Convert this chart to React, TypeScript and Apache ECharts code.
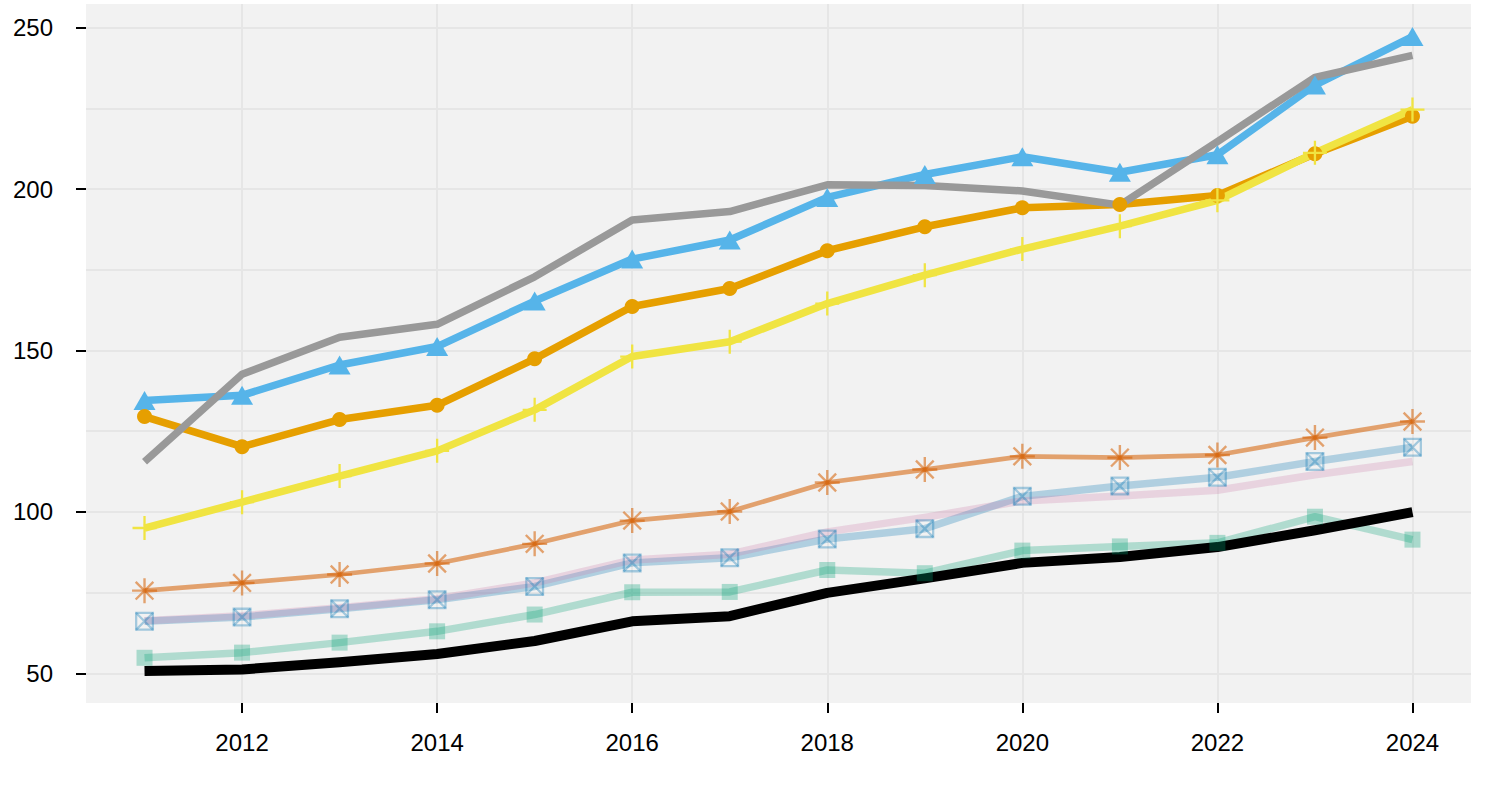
import React, { useEffect, useRef } from "react";
import * as echarts from "echarts";

const years = [2011, 2012, 2013, 2014, 2015, 2016, 2017, 2018, 2019, 2020, 2021, 2022, 2023, 2024];
const xTicks = [2012, 2014, 2016, 2018, 2020, 2022, 2024];
const yTicks = [50, 100, 150, 200, 250];
const yMinor = [75, 125, 175, 225];

const blueVals = [134.5, 136.1, 145.5, 151.2, 165.3, 178.3, 184.2, 197.4, 204.5, 210, 205.2, 210.6, 232.2, 247.2];
const grayVals = [115.5, 142.6, 154.1, 158.1, 172.8, 190.4, 193.0, 201.3, 201.1, 199.4, 195.0, 214.7, 234.6, 241.4];
const orangeVals = [129.5, 120.2, 128.6, 133.0, 147.4, 163.6, 169.2, 180.9, 188.3, 194.2, 195.2, 198.0, 210.9, 222.5];
const yellowVals = [95.0, 103.0, 111.1, 118.9, 131.6, 148.1, 152.7, 164.5, 173.3, 181.4, 188.5, 196.5, 211.2, 224.6];
const vermVals = [75.6, 78.0, 80.6, 84.0, 90.1, 97.3, 100.1, 109.1, 113.1, 117.2, 116.8, 117.6, 123.0, 128.0];
const lightBlueVals = [66.1, 67.4, 70.0, 72.8, 76.9, 84.2, 85.8, 91.6, 94.8, 104.8, 108.0, 110.7, 115.6, 120.0];
const pinkVals = [66.3, 67.8, 70.3, 73.1, 78.0, 85.1, 86.9, 93.8, 98.3, 103.4, 104.9, 106.7, 111.5, 115.6];
const greenVals = [54.8, 56.4, 59.5, 63.0, 68.2, 75.1, 75.2, 82.0, 81.0, 88.0, 89.3, 90.4, 98.5, 91.4];
const blackVals = [50.7, 51.2, 53.4, 56.0, 60.0, 66.1, 67.7, 74.9, 79.4, 84.2, 86.0, 89.1, 94.3, 99.9];

const FONT = "'Liberation Sans', Arial, Helvetica, sans-serif";

// plus sign in a 24x24 box
const PLUS_PATH =
  "path://M10.85,0 L13.15,0 L13.15,10.85 L24,10.85 L24,13.15 L13.15,13.15 L13.15,24 L10.85,24 L10.85,13.15 L0,13.15 L0,10.85 L10.85,10.85 Z";
// diagonal cross inside the same 24x24 box (bbox kept by tiny corner dots)
const XDIAG_PATH =
  "path://M0,0 L0.01,0 L0.01,0.01 Z M24,24 L23.99,24 L23.99,23.99 Z " +
  "M4.31,2.69 L21.31,19.69 L19.69,21.31 L2.69,4.31 Z " +
  "M2.69,19.69 L19.69,2.69 L21.31,4.31 L4.31,21.31 Z";
// square ring in a 20x20 box
const SQ_RING_PATH =
  "path://M0,0 L20,0 L20,20 L0,20 Z M2.4,2.4 L2.4,17.6 L17.6,17.6 L17.6,2.4 Z";
// diagonals of the square in the same 20x20 box
const SQ_DIAG_PATH =
  "path://M0,0 L0.01,0 L0.01,0.01 Z M20,20 L19.99,20 L19.99,19.99 Z " +
  "M1.85,0.15 L19.85,18.15 L18.15,19.85 L0.15,1.85 Z " +
  "M0.15,18.15 L18.15,0.15 L19.85,1.85 L1.85,19.85 Z";

const pairs = (vals: number[]) => years.map((y, i) => [y, vals[i]]);

function lineSeries(vals: number[], color: string, width: number, opacity = 1) {
  return {
    type: "line",
    data: pairs(vals),
    showSymbol: false,
    symbol: "none",
    silent: true,
    lineStyle: { color, width, opacity, cap: "butt", join: "round" },
    itemStyle: { color },
    z: 3,
  };
}

function markerSeries(vals: number[], symbol: string, size: number | number[], color: string, opacity = 1) {
  return {
    type: "scatter",
    data: pairs(vals),
    symbol,
    symbolSize: size,
    silent: true,
    itemStyle: { color, opacity },
    z: 4,
  };
}

export default function App() {
  const ref = useRef<HTMLDivElement>(null);
  useEffect(() => {
    if (!ref.current) return;
    const chart = echarts.init(ref.current, undefined, { renderer: "svg" });
    const gridStyle = { color: "#E6E6E6", width: 2 };
    chart.setOption({
      animation: false,
      backgroundColor: "#FFFFFF",
      grid: {
        left: 86,
        right: 17,
        top: 4,
        bottom: 97,
        show: true,
        backgroundColor: "#F2F2F2",
        borderWidth: 0,
      },
      xAxis: {
        type: "value",
        min: 2010.4,
        max: 2024.6,
        axisLine: { show: false },
        axisTick: {
          show: true,
          length: 10,
          customValues: xTicks,
          lineStyle: { color: "#000", width: 2 },
        },
        axisLabel: {
          customValues: xTicks,
          fontSize: 24,
          color: "#000",
          fontFamily: FONT,
          margin: 27,
          formatter: (v: number) => String(v),
        },
        splitLine: { show: true, lineStyle: gridStyle },
      },
      yAxis: [
        {
          type: "value",
          min: 40.8,
          max: 257.3,
          axisLine: { show: false },
          axisTick: {
            show: true,
            length: 10,
            customValues: yTicks,
            lineStyle: { color: "#000", width: 2 },
          },
          axisLabel: {
            customValues: yTicks,
            fontSize: 24,
            color: "#000",
            fontFamily: FONT,
            margin: 33,
            formatter: (v: number) => String(v),
          },
          splitLine: { show: true, lineStyle: gridStyle },
        },
        {
          type: "value",
          position: "left",
          min: 40.8,
          max: 257.3,
          axisLine: { show: false },
          axisTick: { show: false, customValues: yMinor },
          axisLabel: { show: false, customValues: yMinor },
          splitLine: { show: true, lineStyle: gridStyle },
        },
      ],
      series: [
        lineSeries(blueVals, "#56B4E9", 7.5),
        lineSeries(orangeVals, "#E69F00", 7.5),
        lineSeries(yellowVals, "#F0E442", 7.5),
        lineSeries(vermVals, "#D55E00", 4.7, 0.55),
        lineSeries(lightBlueVals, "#0072B2", 7.5, 0.27),
        lineSeries(pinkVals, "#CC79A7", 7.5, 0.25),
        lineSeries(greenVals, "#009E73", 7.5, 0.27),
        lineSeries(grayVals, "#999999", 7.5),
        lineSeries(blackVals, "#000000", 10),
        markerSeries(blueVals, "triangle", [22, 19], "#56B4E9"),
        markerSeries(orangeVals, "circle", 15, "#E69F00"),
        markerSeries(yellowVals, PLUS_PATH, 24, "#F0E442"),
        markerSeries(vermVals, PLUS_PATH, 25, "#D55E00", 0.55),
        markerSeries(vermVals, XDIAG_PATH, 25, "#D55E00", 0.55),
        markerSeries(lightBlueVals, SQ_RING_PATH, 19, "#0072B2", 0.33),
        markerSeries(lightBlueVals, SQ_DIAG_PATH, 19, "#0072B2", 0.33),
        markerSeries(greenVals, "rect", 16, "#009E73", 0.3),
      ],
    });
    return () => chart.dispose();
  }, []);
  return (
    <div
      ref={ref}
      style={{ position: "fixed", left: 0, top: 0, width: 1488, height: 800 }}
    />
  );
}
